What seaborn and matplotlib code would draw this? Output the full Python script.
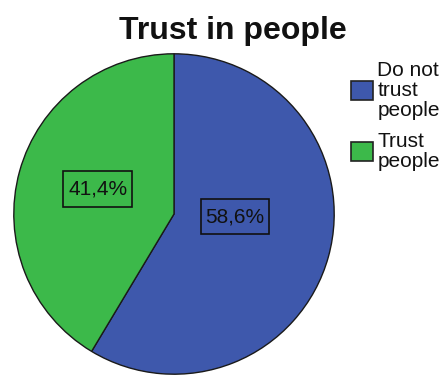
import matplotlib
matplotlib.use("Agg")
import matplotlib.pyplot as plt
from matplotlib.path import Path
import seaborn as sns
import numpy as np

categories = ["Do not trust people", "Trust people"]
legend_labels = ["Do not\ntrust\npeople", "Trust\npeople"]
values = [58.6, 41.4]
pct_labels = ["58,6%", "41,4%"]
colors = ["#3e58ac", "#3cb94a"]

sns.set_theme(style="white")
plt.rcParams['font.family'] = ['Liberation Sans', 'DejaVu Sans']


def rect_box(x0, y0, width, height, mutation_size):
    px = 0.22 * mutation_size
    py = 0.4 * mutation_size
    x0, y0 = x0 - px, y0 - py
    x1, y1 = x0 + width + 2 * px, y0 + height + 2 * py
    return Path([(x0, y0), (x1, y0), (x1, y1), (x0, y1), (x0, y0)], closed=True)


fig = plt.figure(figsize=(4.45, 3.76), dpi=100)
ax = fig.add_axes([13/445, 1/376, 322/445, 322/376])
wedges, _ = ax.pie(values, colors=colors, startangle=90, counterclock=False,
                   wedgeprops=dict(edgecolor="#1a1a1a", linewidth=1.0))
ax.set_aspect("equal")
ax.set_xlim(-1.005, 1.005)
ax.set_ylim(-1.005, 1.005)

# label positions (fractions of radius)
label_pos = [(0.38, -0.016), (-0.477, 0.156)]
for (x, y), t in zip(label_pos, pct_labels):
    ax.text(x, y, t, ha="center", va="center", fontsize=15, color="#111111",
            bbox=dict(boxstyle=rect_box, fc="none", ec="#111111", lw=1.2))

fig.text(232.5/445, 1 - 39/376, "Trust in people", ha="center", va="baseline",
         fontsize=23, fontweight="bold", color="#111111")

leg = fig.legend(wedges, legend_labels, loc="upper left",
                 bbox_to_anchor=(351/445, 1 - 61/376), frameon=False,
                 fontsize=15, handlelength=1.05, handleheight=1.0,
                 handletextpad=0.22, labelspacing=0.6, borderaxespad=0,
                 borderpad=0)
for t in leg.get_texts():
    t.set_linespacing(1.05)
    t.set_color("#111111")
for h in leg.legend_handles:
    h.set_edgecolor("#222222")
    h.set_linewidth(1.2)

fig.savefig("out.png", dpi=100)
